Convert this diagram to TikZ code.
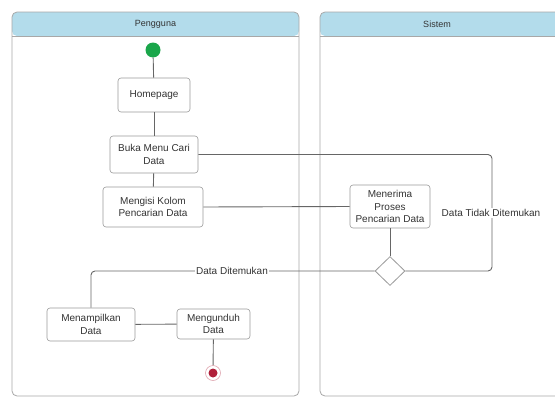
\documentclass[tikz,border=0pt]{standalone}
\usepackage{fontspec}
\setmainfont{Liberation Sans}
\usetikzlibrary{shapes.geometric}
\definecolor{lanehead}{HTML}{B3DCEB}
\definecolor{laneline}{HTML}{A8A8A8}
\definecolor{boxline}{HTML}{9A9A9A}
\definecolor{txt}{HTML}{333333}
\definecolor{startgreen}{HTML}{1AA64A}
\definecolor{endred}{HTML}{B0203A}
\tikzset{
  act/.style={draw=boxline, fill=white, rounded corners=3pt, align=center, font=\fontsize{10}{12.3}\selectfont, text=txt, inner sep=1pt, line width=0.6pt},
  conn/.style={draw=black!60, line width=0.9pt},
  lbl/.style={fill=white, font=\fontsize{10}{12}\selectfont, text=txt, inner sep=1pt},
  lanetitle/.style={font=\fontsize{9}{11}\selectfont, text=txt},
}
\begin{document}
\begin{tikzpicture}[x=1pt,y=-1pt]
\useasboundingbox (0,0) rectangle (555,399);
% lanes
\path[fill=lanehead, rounded corners=5pt] (12,36) -- (12,12) -- (299,12) -- (299,36) -- cycle;
\draw[laneline, line width=0.8pt, rounded corners=5pt] (12,396) -- (12,12) -- (299,12) -- (299,396) -- cycle;
\draw[laneline, line width=0.8pt] (12,36) -- (299,36);
\node[lanetitle] (hp) at (155.5,24) {Pengguna};
\path[fill=lanehead, rounded corners=5pt] (320,36) -- (320,12) -- (565,12) -- (565,36) -- cycle;
\draw[laneline, line width=0.8pt, rounded corners=5pt] (565,396) -- (320,396) -- (320,12) -- (565,12);
\draw[laneline, line width=0.8pt] (320,36) -- (565,36);
\node[lanetitle] (hs) at (437,24) {Sistem};
% nodes
\node[circle, fill=startgreen, minimum size=15pt, inner sep=0pt] (start) at (153,50) {};
\node[act, minimum width=72pt, minimum height=34pt] (home) at (154,95) {Homepage};
\node[act, minimum width=88pt, minimum height=37pt] (buka) at (154,154.5) {Buka Menu Cari\\Data};
\node[act, minimum width=100pt, minimum height=40pt] (isi) at (153,207) {Mengisi Kolom\\Pencarian Data};
\node[act, minimum width=80pt, minimum height=43pt] (terima) at (390,206.5) {Menerima\\Proses\\Pencarian Data};
\node[diamond, draw=boxline, fill=white, line width=0.8pt, minimum width=30pt, minimum height=29pt, inner sep=0pt] (dec) at (390,271) {};
\node[act, minimum width=88pt, minimum height=33pt] (tampil) at (91,324.5) {Menampilkan\\Data};
\node[act, minimum width=73pt, minimum height=30pt] (unduh) at (213.5,324) {Mengunduh\\Data};
\node[circle, draw=endred!40, fill=white, line width=0.6pt, minimum size=15pt, inner sep=0pt] (end) at (213,373) {};
\node[circle, fill=endred, minimum size=9pt, inner sep=0pt] (endin) at (end.center) {};
\coordinate (c1) at (492,154.5);
\coordinate (c2) at (492,271);
\coordinate (c3) at (91,271);
% connectors
\draw[conn] (start) -- (home);
\draw[conn] (home) -- (buka);
\draw[conn] (buka) -- (isi);
\draw[conn, rounded corners=4pt] (buka.east) -- (c1) -- (c2) -- (dec.east);
\draw[conn] (isi.east) -- (terima.west);
\draw[conn] (terima) -- (dec);
\draw[conn, rounded corners=4pt] (dec.west) -- (c3) -- (tampil.north);
\draw[conn] (tampil) -- (unduh);
\draw[conn] (unduh) -- (end);
% labels
\node[lbl] (l1) at (491,213) {Data Tidak Ditemukan};
\node[lbl] (l2) at (232,271) {Data Ditemukan};
\end{tikzpicture}
\end{document}
